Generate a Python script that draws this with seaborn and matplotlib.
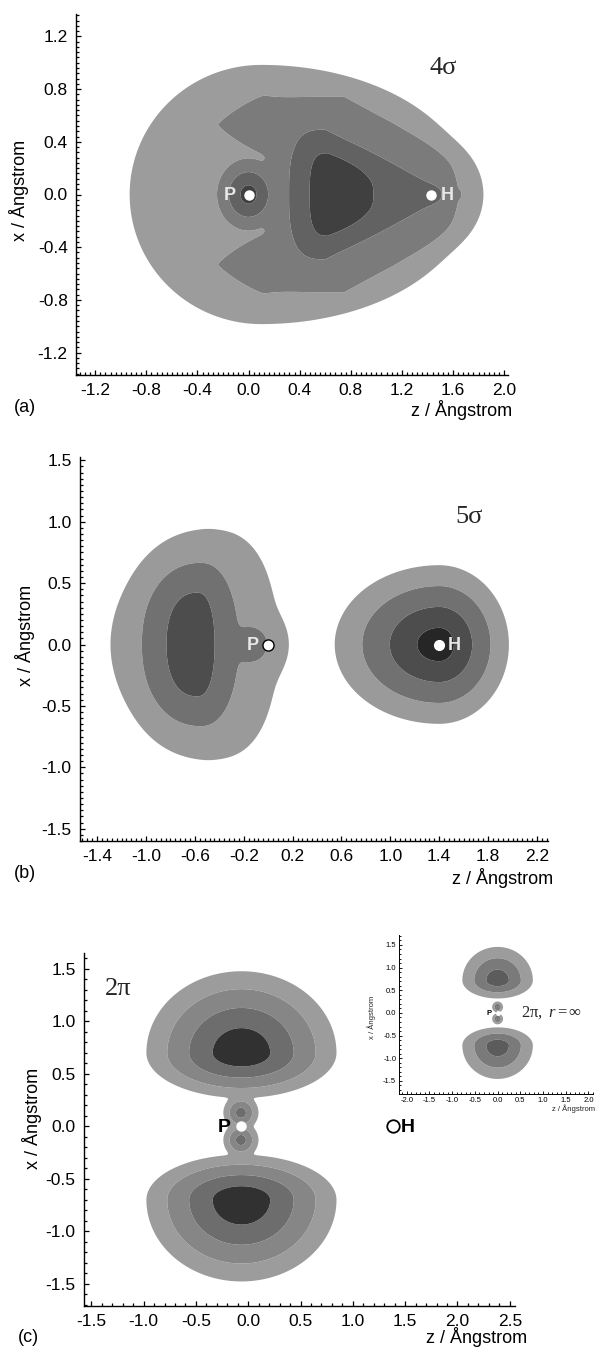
import numpy as np
import matplotlib
matplotlib.use("Agg")
import matplotlib.pyplot as plt
from matplotlib.ticker import FixedLocator, MultipleLocator, FormatStrFormatter
import seaborn as sns

FIG_W, FIG_H = 598, 1348

# ---- axis ticks (Angstrom) ----
a_z_ticks = [-1.2, -0.8, -0.4, 0.0, 0.4, 0.8, 1.2, 1.6, 2.0]
a_x_ticks = [-1.2, -0.8, -0.4, 0.0, 0.4, 0.8, 1.2]
b_z_ticks = [-1.4, -1.0, -0.6, -0.2, 0.2, 0.6, 1.0, 1.4, 1.8, 2.2]
b_x_ticks = [-1.5, -1.0, -0.5, 0.0, 0.5, 1.0, 1.5]
c_z_ticks = [-1.5, -1.0, -0.5, 0.0, 0.5, 1.0, 1.5, 2.0, 2.5]
c_x_ticks = [-1.5, -1.0, -0.5, 0.0, 0.5, 1.0, 1.5]
inset_z_ticks = [-2.0, -1.5, -1.0, -0.5, 0.0, 0.5, 1.0, 1.5, 2.0]
inset_x_ticks = [-1.5, -1.0, -0.5, 0.0, 0.5, 1.0, 1.5]

# ---- nuclei (z, x) ----
a_nuclei = [(0.0, 0.0), (1.43, 0.0)]
b_nuclei = [(0.0, 0.0), (1.40, 0.0)]
c_nuclei = [(-0.07, 0.0), (1.38, 0.0)]

# ---- density lobes, read off the contour shapes ----
# columns: z, x, peak, wz_left, wz_right, wx_down, wx_up, power, squareness, taper, bend
lobes_4sigma = [
    (0.10, 0.0, 0.6, 1.33, 2.12, 1.27, 1.27, 2, 2.0, 0.0, 0.0),
    (0.75, 0.0, 1.5, 0.654, 0.91, 0.793, 0.793, 10, 6.0, 0.71, 0.0),
    (0.12, 0.53, 1.5, 0.40, 1.00, 0.247, 0.247, 6, 1.2, 0.0, 0.0),
    (0.12, -0.53, 1.5, 0.40, 1.00, 0.247, 0.247, 6, 1.2, 0.0, 0.0),
    (0.60, 0.0, 2.5, 0.314, 0.976, 0.54, 0.54, 6, 3.0, 0.9, 0.0),
    (0.62, 0.0, 3.4, 0.163, 0.41, 0.36, 0.36, 6, 3.0, 1.2, 0.0),
    (1.43, 0.0, 2.3, 0.154, 0.154, 0.154, 0.154, 1, 2.0, 0.0, 0.0),
    (0.00, 0.0, 3.7, 0.09, 0.09, 0.10, 0.10, 1, 2.0, 0.0, 0.0),
]
lobes_5sigma = [
    (-0.55, 0.0, 0.6, 0.955, 0.81, 1.2, 1.2, 2, 2.0, 0.0, 0.15),
    (-0.55, 0.0, 1.5, 0.57, 0.357, 0.785, 0.785, 4, 2.2, 0.0, 0.0),
    (-0.58, 0.0, 2.5, 0.28, 0.157, 0.47, 0.47, 6, 2.3, 0.0, 0.0),
    (-0.15, 0.0, 1.9, 0.155, 0.155, 0.155, 0.155, 1, 2.0, 0.0, 0.0),
    (1.40, 0.0, 3.8, 0.225, 0.15, 0.17, 0.17, 1, 2.0, 0.0, 0.0),
]
lobes_2pi = [
    (-0.065, 0.70, 4.0, 0.275, 0.275, 0.13, 0.235, 1.16, 2.0, 0.0, 0.0),
    (-0.065, -0.70, 4.0, 0.275, 0.275, 0.235, 0.13, 1.16, 2.0, 0.0, 0.0),
    (-0.07, 0.13, 2.8, 0.06, 0.06, 0.06, 0.06, 1, 2.0, 0.0, 0.0),
    (-0.07, -0.13, 2.8, 0.06, 0.06, 0.06, 0.06, 1, 2.0, 0.0, 0.0),
]
lobes_2pi_inf = [
    (0.0, 0.72, 2.95, 0.263, 0.263, 0.136, 0.25, 1, 2.0, 0.0, 0.0),
    (0.0, -0.72, 2.95, 0.263, 0.263, 0.25, 0.136, 1, 2.0, 0.0, 0.0),
    (0.0, 0.13, 2.4, 0.05, 0.05, 0.05, 0.05, 1, 2.0, 0.0, 0.0),
    (0.0, -0.13, 2.4, 0.05, 0.05, 0.05, 0.05, 1, 2.0, 0.0, 0.0),
]

# grey shades, outermost level first
shades_4sigma = ['#9c9c9c', '#7b7b7b', '#626262', '#404040']
shades_5sigma = ['#9a9a9a', '#717171', '#4d4d4d', '#262626']
shades_2pi = ['#9c9c9c', '#868686', '#6d6d6d', '#313131']
shades_2pi_inf = ['#9c9c9c', '#7a7a7a', '#5c5c5c']


def density(zz, xx, lobes, k=4.0):
    """Log-density built from a soft union of lobes."""
    terms = []
    for cz, cx, peak, wzl, wzr, wxd, wxu, p, q, taper, bend in lobes:
        v = xx - cx
        u = zz - cz - bend * v ** 2
        wz = np.where(u < 0, wzl, wzr)
        wx = np.where(v < 0, wxd, wxu) * np.clip(1 - taper * u, 0.15, 1.0)
        d = (np.abs(u / wz) ** q + np.abs(v / wx) ** q) ** (1.0 / q)
        terms.append(peak - d ** p)
    terms = np.array(terms)
    m = terms.max(axis=0)
    return m + np.log(np.exp(k * (terms - m)).sum(axis=0)) / k


def px_rect(left, right, top, bottom):
    return [left / FIG_W, 1 - bottom / FIG_H, (right - left) / FIG_W, (bottom - top) / FIG_H]


def fig_pos(px, py):
    return px / FIG_W, 1 - py / FIG_H


def draw_orbital(ax, xlim, ylim, lobes, shades):
    zs = np.linspace(xlim[0], xlim[1], 700)
    xs = np.linspace(ylim[0], ylim[1], 700)
    zz, xx = np.meshgrid(zs, xs)
    f = density(zz, xx, lobes)
    levels = list(range(len(shades))) + [50]
    ax.contourf(zz, xx, f, levels=levels, colors=shades, antialiased=True)
    ax.set_xlim(xlim)
    ax.set_ylim(ylim)


def style_axis(ax, zticks, xticks, zminor, xminor, size=12.5, pad=6, lw=1.0, big=3.5):
    sns.despine(ax=ax)
    ax.set_facecolor('none')
    for s in ['left', 'bottom']:
        ax.spines[s].set_linewidth(lw)
        ax.spines[s].set_color('black')
    ax.xaxis.set_major_locator(FixedLocator(zticks))
    ax.yaxis.set_major_locator(FixedLocator(xticks))
    ax.xaxis.set_minor_locator(MultipleLocator(zminor))
    ax.yaxis.set_minor_locator(MultipleLocator(xminor))
    ax.xaxis.set_major_formatter(FormatStrFormatter('%.1f'))
    ax.yaxis.set_major_formatter(FormatStrFormatter('%.1f'))
    ax.tick_params(which='both', direction='in', top=False, right=False,
                   colors='black', labelsize=size, pad=pad, width=lw * 0.9)
    ax.tick_params(which='major', length=big)
    ax.tick_params(which='minor', length=big * 0.55)
    ax.grid(False)


sns.set_theme(style="ticks")
plt.rcParams['font.family'] = ['Liberation Sans', 'DejaVu Sans']
plt.rcParams['axes.unicode_minus'] = False
plt.rcParams['mathtext.fontset'] = 'custom'
plt.rcParams['mathtext.rm'] = 'Liberation Serif'
plt.rcParams['mathtext.it'] = 'Liberation Serif:italic'

fig = plt.figure(figsize=(FIG_W / 100, FIG_H / 100), dpi=100)
serif = ['Liberation Serif', 'DejaVu Serif']
label_kw = dict(fontsize=13, color='black')

# ---------------- (a) 4 sigma ----------------
ax_a = fig.add_axes(px_rect(76, 508, 14, 375))
draw_orbital(ax_a, (-1.35, 2.03), (-1.37, 1.37), lobes_4sigma, shades_4sigma)
style_axis(ax_a, a_z_ticks, a_x_ticks, 0.04, 0.04)
ax_a.plot(*zip(*a_nuclei), 'o', ms=6.5, mfc='white', mec='white', ls='none')
ax_a.text(-0.10, -0.005, 'P', color='#e8e8e8', fontsize=13, fontweight='bold', ha='right', va='center')
ax_a.text(1.50, -0.005, 'H', color='#e8e8e8', fontsize=13, fontweight='bold', ha='left', va='center')
ax_a.text(1.52, 0.96, '4σ', family=serif, fontsize=19, ha='center', va='center')
fig.text(*fig_pos(25, 408), '(a)', ha='center', va='center', **label_kw)
fig.text(*fig_pos(512, 410), 'z / Ångstrom', ha='right', va='center', **label_kw)
fig.text(*fig_pos(19, 190), 'x / Ångstrom', ha='center', va='center', rotation=90, **label_kw)

# ---------------- (b) 5 sigma ----------------
ax_b = fig.add_axes(px_rect(80, 548, 457, 841))
draw_orbital(ax_b, (-1.54, 2.29), (-1.60, 1.527), lobes_5sigma, shades_5sigma)
style_axis(ax_b, b_z_ticks, b_x_ticks, 0.04, 0.05)
ax_b.plot(*b_nuclei[0], 'o', ms=8, mfc='white', mec='black', mew=1.0)
ax_b.plot(*b_nuclei[1], 'o', ms=7, mfc='white', mec='white')
ax_b.text(-0.08, -0.01, 'P', color='#e8e8e8', fontsize=13, fontweight='bold', ha='right', va='center')
ax_b.text(1.47, -0.01, 'H', color='#e8e8e8', fontsize=13, fontweight='bold', ha='left', va='center')
ax_b.text(1.64, 1.04, '5σ', family=serif, fontsize=19, ha='center', va='center')
fig.text(*fig_pos(25, 874), '(b)', ha='center', va='center', **label_kw)
fig.text(*fig_pos(553, 878), 'z / Ångstrom', ha='right', va='center', **label_kw)
fig.text(*fig_pos(25, 635), 'x / Ångstrom', ha='center', va='center', rotation=90, **label_kw)

# ---------------- (c) 2 pi ----------------
ax_c = fig.add_axes(px_rect(84, 515, 953, 1306))
draw_orbital(ax_c, (-1.57, 2.55), (-1.71, 1.65), lobes_2pi, shades_2pi)
style_axis(ax_c, c_z_ticks, c_x_ticks, 0.1, 0.1)
ax_c.plot(*c_nuclei[0], 'o', ms=6.5, mfc='white', mec='white')
ax_c.plot(*c_nuclei[1], 'o', ms=9, mfc='white', mec='black', mew=1.3)
ax_c.text(-0.17, -0.01, 'P', color='black', fontsize=14, fontweight='bold', ha='right', va='center')
ax_c.text(1.46, -0.01, 'H', color='black', fontsize=14, fontweight='bold', ha='left', va='center')
ax_c.text(-1.245, 1.31, '2π', family=serif, fontsize=19, ha='center', va='center')
fig.text(*fig_pos(28, 1338), '(c)', ha='center', va='center', **label_kw)
fig.text(*fig_pos(527, 1337), 'z / Ångstrom', ha='right', va='center', **label_kw)
fig.text(*fig_pos(32, 1118), 'x / Ångstrom', ha='center', va='center', rotation=90, **label_kw)

# inset: 2 pi at r = infinity
ax_i = fig.add_axes(px_rect(399, 593, 935, 1094))
draw_orbital(ax_i, (-2.17, 2.10), (-1.79, 1.72), lobes_2pi_inf, shades_2pi_inf)
style_axis(ax_i, inset_z_ticks, inset_x_ticks, 0.1, 0.1, size=5.5, pad=2, lw=0.7, big=2.0)
ax_i.plot(0.0, 0.0, 'o', ms=2.5, mfc='white', mec='white')
ax_i.text(-0.13, -0.01, 'P', color='black', fontsize=5.5, fontweight='bold', ha='right', va='center')
ax_i.text(1.18, 0.0, r'$\mathrm{2π,}\ \mathit{r} = ∞$', fontsize=12, ha='center', va='center')
fig.text(*fig_pos(595, 1109), 'z / Ångstrom', ha='right', va='center', fontsize=5.5)
fig.text(*fig_pos(372, 1017), 'x / Ångstrom', ha='center', va='center', rotation=90, fontsize=5.5)

fig.savefig('out.png', dpi=100)
